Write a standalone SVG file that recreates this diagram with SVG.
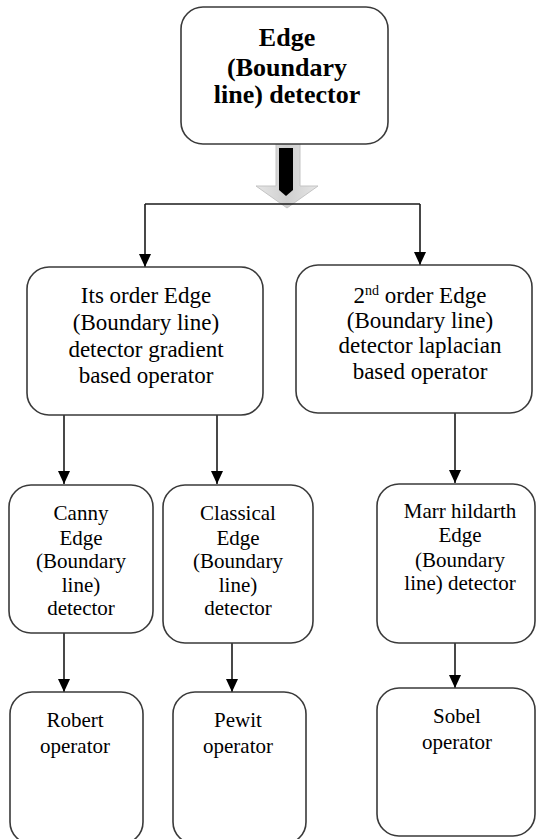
<svg xmlns="http://www.w3.org/2000/svg" width="537" height="839" viewBox="0 0 537 839">
<style>
.box{fill:#fff;stroke:#3a3a3a;stroke-width:1.6}
.t{font-family:'Liberation Serif','Times New Roman',serif;fill:#000;text-anchor:middle}
.tb{font-size:26px;font-weight:bold}
.tm{font-size:23px}
.ts{font-size:21px}
.ln{fill:none;stroke:#1a1a1a;stroke-width:1.6}
.arr{marker-end:url(#ah)}
</style>
<defs>
<marker id="ah" viewBox="0 0 13 12" refX="13" refY="6" markerWidth="13" markerHeight="12" orient="auto" markerUnits="userSpaceOnUse">
<path d="M0,0 L13,6 L0,12 z" fill="#000"/>
</marker>
<linearGradient id="gg" x1="0" y1="0" x2="1" y2="0">
<stop offset="0" stop-color="#e6e6e6"/><stop offset="0.5" stop-color="#cfcfcf"/><stop offset="1" stop-color="#e6e6e6"/>
</linearGradient>
</defs>
<rect width="537" height="839" fill="#fff"/>

<g id="connectors">
<polygon points="276,144 300,144 300,186 318,186 287,208 256,186 276,186" fill="url(#gg)" stroke="#c4c4c4" stroke-width="1"/>
<polygon points="279,148 293,148 293,190 286,196 279,190" fill="#000"/>
<path class="ln" d="M145,204 H420"/>
<path class="ln arr" d="M145,204 V267"/>
<path class="ln arr" d="M420,204 V265"/>
<path class="ln arr" d="M64,415 V484"/>
<path class="ln arr" d="M217,415 V484"/>
<path class="ln arr" d="M455,413 V483"/>
<path class="ln arr" d="M64,633 V692"/>
<path class="ln arr" d="M232,643 V692"/>
<path class="ln arr" d="M455,643 V688"/>
</g>

<g id="n-root">
<rect class="box" x="181" y="7" width="207" height="137" rx="22"/>
<text class="t tb" x="287" y="46">Edge</text>
<text class="t tb" x="287" y="76">(Boundary</text>
<text class="t tb" x="287" y="103">line) detector</text>
</g>

<g id="n-first">
<rect class="box" x="27" y="267" width="236" height="148" rx="22"/>
<text class="t tm" x="146" y="303">Its order Edge</text>
<text class="t tm" x="146" y="330">(Boundary line)</text>
<text class="t tm" x="146" y="357">detector gradient</text>
<text class="t tm" x="146" y="383">based operator</text>
</g>

<g id="n-second">
<rect class="box" x="296" y="265" width="236" height="148" rx="22"/>
<text class="t tm" x="420" y="303">2<tspan font-size="14" dy="-8">nd</tspan><tspan dy="8"> order Edge</tspan></text>
<text class="t tm" x="420" y="328">(Boundary line)</text>
<text class="t tm" x="420" y="353">detector laplacian</text>
<text class="t tm" x="420" y="379">based operator</text>
</g>

<g id="n-canny">
<rect class="box" x="9" y="485" width="144" height="148" rx="22"/>
<text class="t ts" x="81" y="520">Canny</text>
<text class="t ts" x="81" y="545">Edge</text>
<text class="t ts" x="81" y="568">(Boundary</text>
<text class="t ts" x="81" y="592">line)</text>
<text class="t ts" x="81" y="615">detector</text>
</g>

<g id="n-classical">
<rect class="box" x="163" y="485" width="150" height="158" rx="22"/>
<text class="t ts" x="238" y="520">Classical</text>
<text class="t ts" x="238" y="545">Edge</text>
<text class="t ts" x="238" y="568">(Boundary</text>
<text class="t ts" x="238" y="592">line)</text>
<text class="t ts" x="238" y="615">detector</text>
</g>

<g id="n-marr">
<rect class="box" x="377" y="484" width="158" height="159" rx="22"/>
<text class="t ts" x="460" y="518">Marr hildarth</text>
<text class="t ts" x="460" y="542">Edge</text>
<text class="t ts" x="460" y="567">(Boundary</text>
<text class="t ts" x="460" y="590">line) detector</text>
</g>

<g id="n-robert">
<rect class="box" x="10" y="692" width="133" height="152" rx="22"/>
<text class="t ts" x="75" y="727">Robert</text>
<text class="t ts" x="75" y="753">operator</text>
</g>

<g id="n-pewit">
<rect class="box" x="173" y="692" width="133" height="152" rx="22"/>
<text class="t ts" x="238" y="727">Pewit</text>
<text class="t ts" x="238" y="753">operator</text>
</g>

<g id="n-sobel">
<rect class="box" x="377" y="688" width="158" height="148" rx="22"/>
<text class="t ts" x="457" y="723">Sobel</text>
<text class="t ts" x="457" y="749">operator</text>
</g>
</svg>
